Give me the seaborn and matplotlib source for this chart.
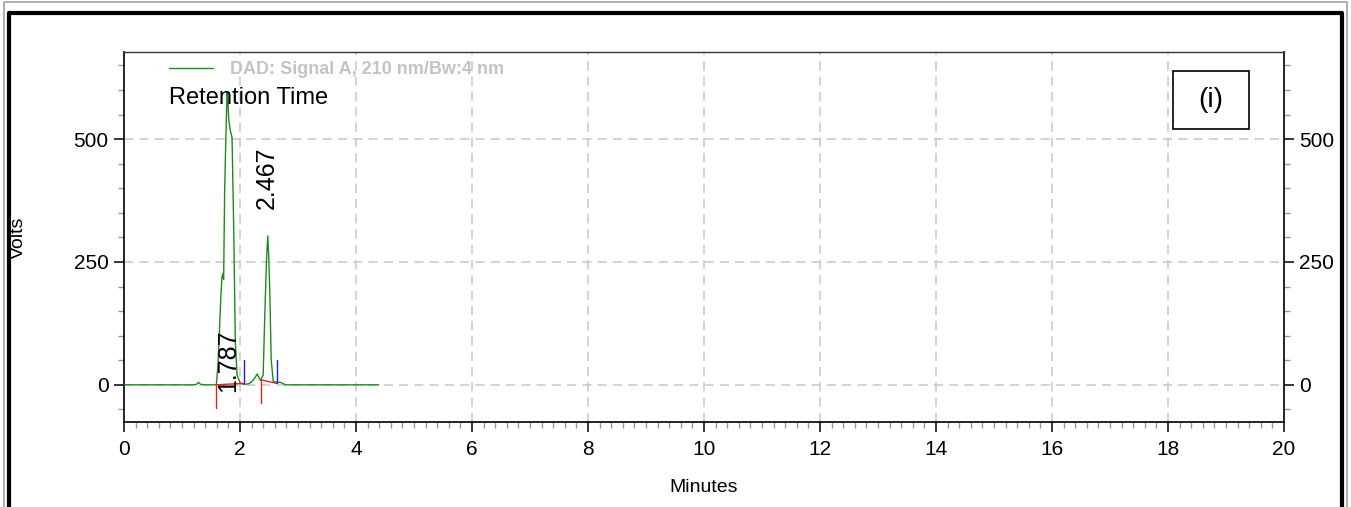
import matplotlib
matplotlib.use("Agg")
import matplotlib.pyplot as plt
import seaborn as sns
from matplotlib.lines import Line2D
from matplotlib.patches import Rectangle
from matplotlib.ticker import MultipleLocator

# Chromatogram trace (minutes, volts)
trace_time = [0.00, 1.20, 1.25, 1.285, 1.32, 1.40, 1.50, 1.592, 1.62, 1.649, 1.67, 1.690,
              1.705, 1.718, 1.735, 1.760, 1.777, 1.790, 1.805, 1.834, 1.863, 1.891, 1.920,
              1.950, 2.007, 2.064, 2.15, 2.209, 2.26, 2.296, 2.330, 2.353, 2.400, 2.422,
              2.457, 2.479, 2.496, 2.514, 2.538, 2.573, 2.642, 2.699, 2.785, 2.90, 4.39]
trace_volts = [0, 0, 1, 5, 1, 0, 0, 0, 40, 119, 180, 221,
               226, 215, 392, 520, 595, 580, 541, 517, 503, 323, 86,
               20, 3, 1, 2, 7, 15, 22, 14, 9, 20, 119,
               255, 303, 260, 187, 51, 7, 5, 5, 0, 0, 0]

# Peak labels
peak_labels = ["1.787", "2.467"]
label_time = [1.80, 2.457]
label_volts = [-14, 357]

# Integration markers: baseline start (red), baseline end (blue)
red_start_time = [1.587, 2.370]
red_start_top = [0, 10]
red_start_bottom = [-48, -37]
red_end_time = [2.064, 2.63]
red_end_volts = [3, 3]
blue_top = [50, 51]

x_ticks = list(range(0, 21, 2))
y_ticks = [0, 250, 500]

sns.set_theme(style="white")
plt.rcParams["font.family"] = ["Liberation Sans", "DejaVu Sans"]

fig = plt.figure(figsize=(13.51, 5.07), dpi=100)
ax = fig.add_axes([0.09178, 0.1683, 0.85863, 0.7297])

# grid
for t in x_ticks[1:-1]:
    ax.axvline(t, color="#c8c8c8", lw=1.1, dashes=(6, 4), zorder=0)
for v in y_ticks:
    ax.axhline(v, color="#c8c8c8", lw=1.1, dashes=(6, 4), zorder=0)

sns.lineplot(x=trace_time, y=trace_volts, sort=False, color="#1f8a1f", lw=1.0, ax=ax,
             label="DAD: Signal A, 210 nm/Bw:4 nm", zorder=3)

for i in range(len(red_start_time)):
    ax.plot([red_start_time[i], red_start_time[i]], [red_start_top[i], red_start_bottom[i]],
            color="#e8201c", lw=1.0, zorder=4)
    ax.plot([red_start_time[i], red_end_time[i]], [red_start_top[i], red_end_volts[i]],
            color="#e8201c", lw=1.0, zorder=4)
    ax.plot([red_end_time[i], red_end_time[i]], [red_end_volts[i], blue_top[i]],
            color="#1a1aff", lw=1.0, zorder=4)

for lab, t, v in zip(peak_labels, label_time, label_volts):
    ax.text(t, v, lab, rotation=90, ha="center", va="bottom", fontsize=18,
            color="black", zorder=5)

ax.set_xlim(0, 20)
ax.set_ylim(-75, 678)
ax.set_xticks(x_ticks)
ax.set_yticks(y_ticks)
ax.xaxis.set_minor_locator(MultipleLocator(0.2))
ax.yaxis.set_minor_locator(MultipleLocator(50))
ax.tick_params(axis="both", which="major", direction="out", length=7, width=1.1,
               color="black", labelsize=15, labelcolor="black", pad=4)
ax.tick_params(axis="both", which="minor", direction="out", length=4, width=1.0,
               color="#999999")
ax.tick_params(axis="y", which="both", left=True, right=True, labelleft=True, labelright=True)
ax.tick_params(axis="x", which="both", bottom=True, top=False)
ax.tick_params(axis="x", which="major", pad=6)

for s in ["left", "bottom", "right"]:
    ax.spines[s].set_color("black")
    ax.spines[s].set_linewidth(1.2)
ax.spines["top"].set_color("#333333")
ax.spines["top"].set_linewidth(1.0)

ax.set_xlabel("Minutes", fontsize=14, color="black")
ax.set_ylabel("Volts", fontsize=14, color="black")
ax.xaxis.set_label_coords(0.5, -0.155)
ax.yaxis.set_label_coords(-0.0836, 0.497)

leg = ax.legend(loc="upper left", bbox_to_anchor=(0.0388, 0.975), frameon=False,
                handlelength=2.45, handletextpad=0.92, borderpad=0, borderaxespad=0,
                prop={"size": 13, "weight": "bold"})
for txt in leg.get_texts():
    txt.set_color("#c4c4c4")

ax.text(0.0388, 0.859, "Retention Time", transform=ax.transAxes, fontsize=17,
        color="black", ha="left", va="baseline")

ax.add_patch(Rectangle((0.9044, 0.7919), 0.0655, 0.1568, transform=ax.transAxes,
                       fill=False, edgecolor="black", lw=1.2, zorder=6))
ax.text(0.9372, 0.870, "(i)", transform=ax.transAxes, fontsize=20, ha="center",
        va="center", color="black", zorder=6)

# outer page frame
fig.add_artist(Line2D([0.00296, 0.00296, 0.99704, 0.99704], [0, 0.9951, 0.9951, 0],
                      transform=fig.transFigure, color="#999999", lw=1.1))
fig.add_artist(Line2D([0.00666, 0.00666, 0.99297, 0.99297], [0, 0.9753, 0.9753, 0],
                      transform=fig.transFigure, color="black", lw=3.0))

fig.savefig("out.png", dpi=100)
